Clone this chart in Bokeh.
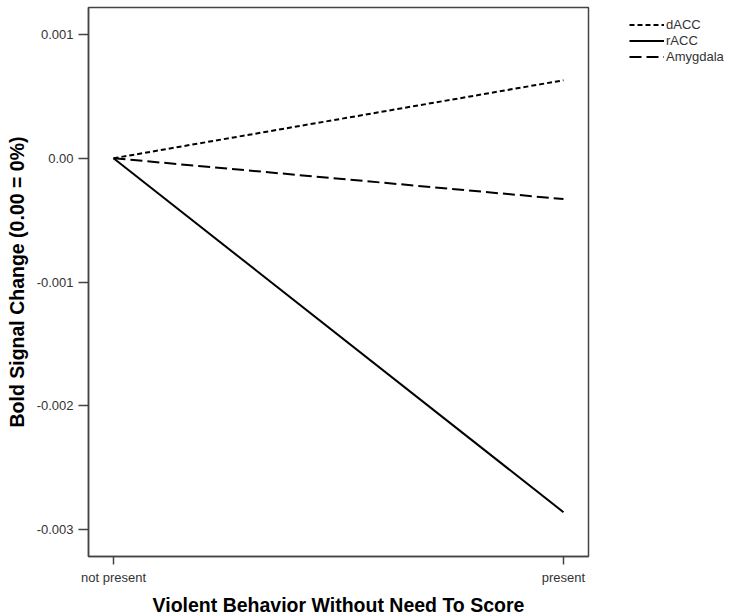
from bokeh.plotting import figure
from bokeh.models import Range1d, FixedTicker, Legend, LegendItem, ColumnDataSource
from bokeh.embed import file_html
from bokeh.resources import INLINE

categories = ["not present", "present"]
x_pos = [0, 1]
dacc = [0.0, 0.00063]
racc = [0.0, -0.00286]
amygdala = [0.0, -0.00033]

y_ticks = [0.001, 0.0, -0.001, -0.002, -0.003]
y_tick_labels = ["0.001", "0.00", "-0.001", "-0.002", "-0.003"]

FONT = "Liberation Sans"

p = figure(width=729, height=616, frame_width=500, frame_height=549,
           min_border_left=88, min_border_right=141, min_border_top=7, min_border_bottom=60,
           x_range=Range1d(-0.0556, 1.0556), y_range=Range1d(-0.003218, 0.001218),
           output_backend="svg", toolbar_location=None)

p.grid.visible = False
p.outline_line_color = "#444444"
p.outline_line_width = 1.5
p.background_fill_color = "white"
p.border_fill_color = "white"

for ax in (p.xaxis[0], p.yaxis[0]):
    ax.axis_line_color = "#444444"
    ax.axis_line_width = 1.5
    ax.major_tick_line_color = "#444444"
    ax.major_tick_line_width = 1.5
    ax.major_tick_in = 0
    ax.minor_tick_line_color = None
    ax.major_label_text_font = FONT
    ax.major_label_text_font_size = "13px"
    ax.major_label_text_color = "#333333"
    ax.axis_label_text_font = FONT
    ax.axis_label_text_font_size = "19.5px"
    ax.axis_label_text_font_style = "bold"
    ax.axis_label_text_color = "black"

p.xaxis.ticker = FixedTicker(ticks=x_pos)
p.xaxis.major_label_overrides = {x: c for x, c in zip(x_pos, categories)}
p.xaxis.major_tick_out = 8
p.xaxis.major_label_standoff = 5
p.xaxis.axis_label = "Violent Behavior Without Need To Score"
p.xaxis.axis_label_standoff = 6

p.yaxis.ticker = FixedTicker(ticks=y_ticks)
p.yaxis.major_label_overrides = {t: l for t, l in zip(y_ticks, y_tick_labels)}
p.yaxis.major_tick_out = 10
p.yaxis.major_label_standoff = 5
p.yaxis.axis_label = "Bold Signal Change (0.00 = 0%)"
p.yaxis.axis_label_standoff = 6

src = ColumnDataSource(dict(x=x_pos, dacc=dacc, racc=racc, amyg=amygdala))
r1 = p.line("x", "dacc", source=src, line_color="black", line_width=2, line_dash="5 3")
r2 = p.line("x", "racc", source=src, line_color="black", line_width=2)
r3 = p.line("x", "amyg", source=src, line_color="black", line_width=2, line_dash="12 5")

legend = Legend(items=[LegendItem(label="dACC", renderers=[r1]),
                       LegendItem(label="rACC", renderers=[r2]),
                       LegendItem(label="Amygdala", renderers=[r3])],
                location=(41, 492))
legend.border_line_color = None
legend.background_fill_alpha = 0
legend.padding = 0
legend.margin = 0
legend.spacing = 1
legend.glyph_width = 35
legend.glyph_height = 15
legend.label_height = 15
legend.label_standoff = 2
legend.label_text_font = FONT
legend.label_text_font_size = "13px"
legend.label_text_color = "#333333"
p.add_layout(legend, "right")

open("out.html", "w").write(file_html(p, INLINE))
